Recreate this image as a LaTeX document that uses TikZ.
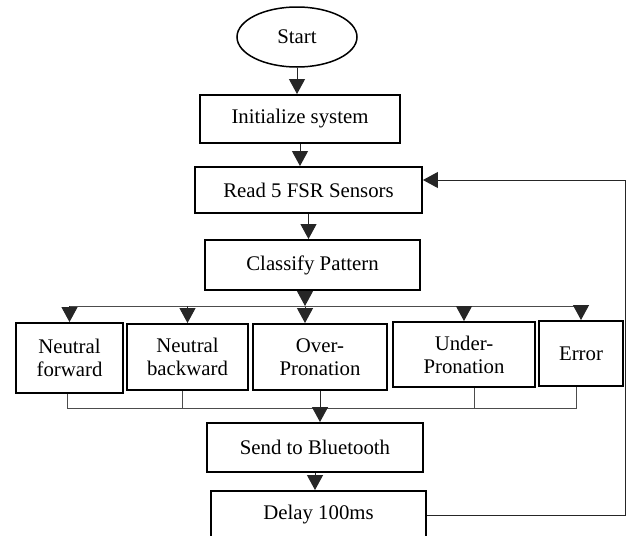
\documentclass[tikz,border=0pt]{standalone}
\usepackage{fontspec}
\setmainfont{Liberation Serif}
\usetikzlibrary{shapes,arrows.meta,positioning,calc}

\begin{document}
\begin{tikzpicture}[x=1pt, y=-1pt,
        fsr block/.style={rectangle, draw, line width=1.9pt, align=center, inner sep=0pt, font=\fontsize{20.8}{23}\selectfont},
        fsr start/.style={ellipse, draw, line width=1.5pt, inner sep=0pt, minimum width=120pt, minimum height=60pt, font=\fontsize{20.8}{23}\selectfont},
        line/.style={draw, black!85, line width=1pt, -{Triangle[width=16pt,length=15pt]}},
        link/.style={draw, black!70, line width=1pt}]
        \useasboundingbox (0,0) rectangle (630,536);

        % main column
        \node [fsr start] (start) at (297,37) {Start};
        \node [fsr block, minimum width=200pt, minimum height=48pt] (init) at (300,119) {Initialize system};
        \node [fsr block, minimum width=227pt, minimum height=46pt] (read) at (308.5,190) {Read 5 FSR Sensors};
        \node [fsr block, minimum width=215pt, minimum height=50pt] (classify) at (312.5,265) {Classify Pattern};

        % pattern classes
        \node [fsr block, minimum width=107pt, minimum height=70pt] (fwd) at (69.5,358) {Neutral\\forward};
        \node [fsr block, minimum width=121pt, minimum height=66pt] (bwd) at (187.5,357) {Neutral\\backward};
        \node [fsr block, minimum width=134pt, minimum height=66pt] (over) at (320,357) {Over-\\Pronation};
        \node [fsr block, minimum width=142pt, minimum height=65pt] (under) at (464,354.5) {Under-\\Pronation};
        \node [fsr block, minimum width=84pt, minimum height=65pt] (error) at (581,353.5) {Error};

        \node [fsr block, minimum width=216pt, minimum height=49pt] (send) at (315,447.5) {Send to Bluetooth};
        \node [fsr block, minimum width=215pt, minimum height=48pt] (delay) at (318.5,515) {Delay 100ms};

        \coordinate (split) at (305,306);
        \coordinate (merge) at (322,408);
        \coordinate (loop) at (625,180);

        \path [line] (start.south) -- (start.south |- init.north);
        \path [line] (init.south) -- (init.south |- read.north);
        \path [line] (read.south) -- (read.south |- classify.north);

        % fan out to the classes
        \path [line] (split |- classify.south) -- (split);
        \path [line] (split) -- (split |- over.north);
        \path [link] (split -| fwd) -- (split -| error);
        \foreach \cls in {fwd, bwd, under, error}
            \path [line] (split -| \cls) -- (\cls.north);

        % collect again
        \path [link] ([xshift=-2pt]fwd.south) -- ([xshift=-2pt]fwd.south |- merge) -- ([xshift=-5pt]error.south |- merge) -- ([xshift=-5pt]error.south);
        \path [link] ([xshift=-5pt]bwd.south) -- ([xshift=-5pt]bwd.south |- merge);
        \path [link] ([xshift=10pt]under.south) -- ([xshift=10pt]under.south |- merge);
        \path [line] (over.south) -- (over.south |- send.north);
        \path [line] (send.south) -- (send.south |- delay.north);

        % back to the sensors
        \path [line] (delay.east) -- (delay.east -| loop) |- ([yshift=10pt]read.east);
\end{tikzpicture}
\end{document}
